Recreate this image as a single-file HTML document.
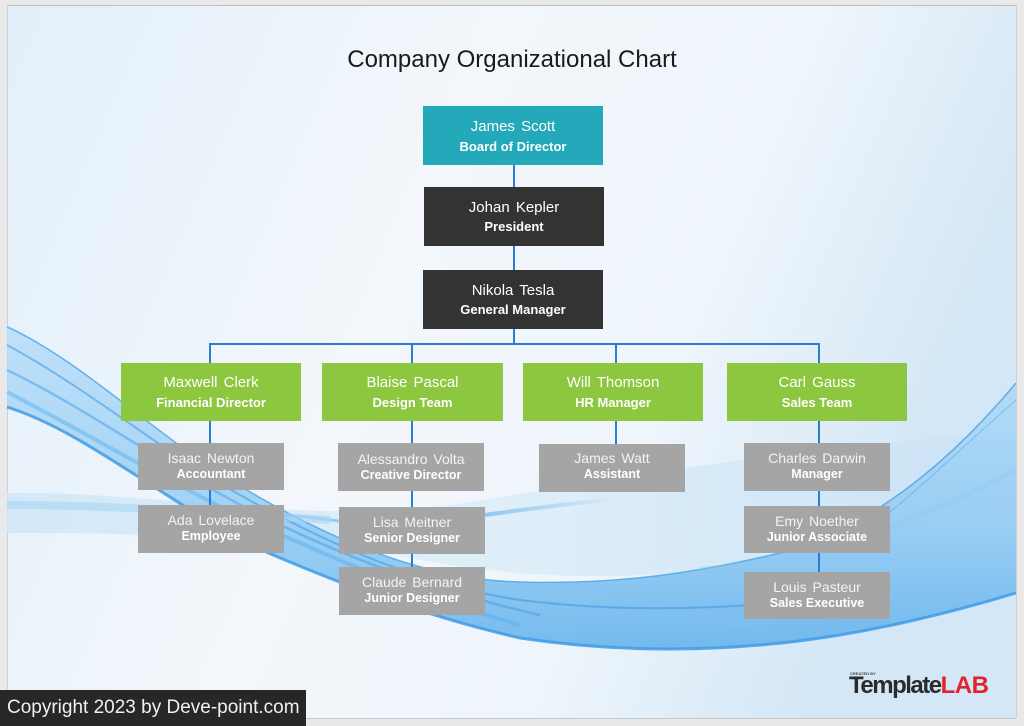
<!DOCTYPE html>
<html>
<head>
<meta charset="utf-8">
<style>
  html,body{margin:0;padding:0;}
  body{width:1024px;height:726px;position:relative;overflow:hidden;background:#e9e9e9;font-family:"Liberation Sans",Arial,sans-serif;}
  .bg{position:absolute;left:0;top:0;}
  .box{position:absolute;}
  .teal{background:#23a9b9;}
  .dark{background:#333333;}
  .green{background:#8dc63f;}
  .gray{background:#a5a5a5;}
  .t{position:absolute;left:0;width:100%;text-align:center;color:#fff;white-space:nowrap;}
  .n1{font-size:15px;line-height:18px;word-spacing:2px;}
  .r1{font-size:13px;line-height:16px;font-weight:bold;}
  .n2{font-size:14px;line-height:17px;word-spacing:2px;color:#f4f4f4;}
  .r2{font-size:12.5px;line-height:15px;font-weight:bold;}
  .ln{position:absolute;background:#2b7dd3;}
  .title{position:absolute;left:0;width:1024px;top:45px;text-align:center;font-size:24px;color:#1a1a1a;line-height:30px;}
  .copy{position:absolute;left:0;top:690px;width:306px;height:36px;background:#272727;color:#f0f0f0;font-size:19px;line-height:36px;padding-left:7px;box-sizing:border-box;white-space:nowrap;}
  .logo{position:absolute;left:849px;top:673px;font-size:24px;font-weight:bold;letter-spacing:-1.5px;line-height:26px;white-space:nowrap;}
  .logo .a{color:#2b2b2b;}
  .logo .b{color:#e3232c;letter-spacing:-0.5px;}
  .cb{position:absolute;left:850px;top:671px;font-size:4px;font-weight:bold;color:#444;line-height:5px;}
</style>
</head>
<body>
<svg class="bg" width="1024" height="726" viewBox="0 0 1024 726">
  <defs>
    <linearGradient id="bgg" x1="0" y1="0" x2="1" y2="0.3">
      <stop offset="0" stop-color="#e2effa"/>
      <stop offset="0.45" stop-color="#f3f7fb"/>
      <stop offset="0.75" stop-color="#eef5fb"/>
      <stop offset="1" stop-color="#d4e7f6"/>
    </linearGradient>
    <linearGradient id="band" x1="0" y1="0" x2="0" y2="1">
      <stop offset="0" stop-color="#b9def8"/>
      <stop offset="0.6" stop-color="#92cbf3"/>
      <stop offset="1" stop-color="#5fb0ec"/>
    </linearGradient>
    <linearGradient id="lite" x1="0" y1="0" x2="1" y2="0">
      <stop offset="0" stop-color="#cfe6f8"/>
      <stop offset="0.5" stop-color="#dcedf9"/>
      <stop offset="1" stop-color="#c9e2f6"/>
    </linearGradient>
    <linearGradient id="fade" x1="0" y1="0" x2="1" y2="0">
      <stop offset="0" stop-color="#5aaeea" stop-opacity="0.6"/>
      <stop offset="1" stop-color="#5aaeea" stop-opacity="0"/>
    </linearGradient>
  </defs>
  <rect x="7" y="5" width="1009" height="713" fill="url(#bgg)"/>
  <line x1="7" y1="5.5" x2="1016" y2="5.5" stroke="#bdbdbd" stroke-width="1"/>
  <line x1="7.5" y1="5" x2="7.5" y2="718" stroke="#d0d0d0" stroke-width="1"/>
  <line x1="1016.5" y1="5" x2="1016.5" y2="718" stroke="#d0d0d0" stroke-width="1"/>
  <line x1="7" y1="718.5" x2="1016" y2="718.5" stroke="#c8c8c8" stroke-width="1"/>
  <!-- light band -->
  <path d="M7,493 C150,490 300,525 450,505 C600,482 800,445 1016,432 L1016,505 C900,525 800,555 700,570 C600,582 500,576 400,556 C300,540 150,532 7,533 Z" fill="url(#lite)" opacity="0.85"/>
  <!-- main band -->
  <path d="M7,325 C80,360 150,430 230,480 C320,535 420,580 520,582 C620,585 700,572 780,553 C880,525 960,450 1016,383 L1016,593 C960,610 860,637 760,645 C680,652 600,650 520,638 C420,615 330,580 250,545 C150,490 80,430 7,407 Z" fill="url(#band)" opacity="0.85"/>
  <!-- texture lines -->
  <path d="M7,327 C80,360 150,430 230,480 C320,535 420,580 520,582 C620,585 700,572 780,553 C880,525 960,450 1016,383" fill="none" stroke="#4aa3e6" stroke-width="1.5" opacity="0.8"/>
  <path d="M1016,593 C960,610 860,637 760,645 C680,652 600,650 520,638 C420,615 330,580 250,545 C150,490 80,430 7,407" fill="none" stroke="#3f9be5" stroke-width="3" opacity="0.85"/>
  <path d="M7,345 C90,390 160,450 240,495 C330,545 420,585 520,600 C600,610 700,612 800,600" fill="none" stroke="#3b97e2" stroke-width="2" opacity="0.55"/>
  <path d="M7,370 C90,410 170,470 260,515 C340,555 430,590 540,615" fill="none" stroke="#3b97e2" stroke-width="2.5" opacity="0.45"/>
  <path d="M7,392 C100,440 180,490 270,530 C350,565 430,600 520,625" fill="none" stroke="#56aceb" stroke-width="4" opacity="0.45"/>
  <path d="M200,520 C260,512 300,515 345,522" fill="none" stroke="#5aaeea" stroke-width="3" opacity="0.5"/>
  <path d="M485,515 C520,510 560,505 620,498" fill="none" stroke="url(#fade)" stroke-width="4"/>
  <path d="M7,505 C120,505 250,515 330,520" fill="none" stroke="#a9d5f3" stroke-width="8" opacity="0.6"/>
  <path d="M700,570 C800,560 880,540 1016,470" fill="none" stroke="#8fc8f1" stroke-width="6" opacity="0.35"/>
  <path d="M880,520 C930,480 970,440 1016,400" fill="none" stroke="#4aa3e6" stroke-width="1" opacity="0.5"/>
</svg>

<div class="title">Company Organizational Chart</div>

<!-- connectors -->
<div class="ln" style="left:513px;top:164px;width:2px;height:24px"></div>
<div class="ln" style="left:513px;top:245px;width:2px;height:26px"></div>
<div class="ln" style="left:513px;top:328px;width:2px;height:16px"></div>
<div class="ln" style="left:209px;top:343px;width:611px;height:2px"></div>
<div class="ln" style="left:209px;top:343px;width:2px;height:21px"></div>
<div class="ln" style="left:411px;top:343px;width:2px;height:21px"></div>
<div class="ln" style="left:615px;top:343px;width:2px;height:21px"></div>
<div class="ln" style="left:818px;top:343px;width:2px;height:21px"></div>
<div class="ln" style="left:209px;top:420px;width:2px;height:24px"></div>
<div class="ln" style="left:209px;top:489px;width:2px;height:17px"></div>
<div class="ln" style="left:411px;top:420px;width:2px;height:24px"></div>
<div class="ln" style="left:411px;top:490px;width:2px;height:18px"></div>
<div class="ln" style="left:411px;top:553px;width:2px;height:15px"></div>
<div class="ln" style="left:615px;top:420px;width:2px;height:25px"></div>
<div class="ln" style="left:818px;top:420px;width:2px;height:24px"></div>
<div class="ln" style="left:818px;top:490px;width:2px;height:17px"></div>
<div class="ln" style="left:818px;top:552px;width:2px;height:21px"></div>

<!-- top boxes -->
<div class="box teal" style="left:423px;top:106px;width:180px;height:59px">
  <div class="t n1" style="top:12px">James Scott</div>
  <div class="t r1" style="top:33px">Board of Director</div>
</div>
<div class="box dark" style="left:424px;top:187px;width:180px;height:59px">
  <div class="t n1" style="top:12px">Johan Kepler</div>
  <div class="t r1" style="top:32px">President</div>
</div>
<div class="box dark" style="left:423px;top:270px;width:180px;height:59px">
  <div class="t n1" style="top:12px">Nikola Tesla</div>
  <div class="t r1" style="top:32px">General Manager</div>
</div>

<!-- green -->
<div class="box green" style="left:121px;top:363px;width:180px;height:58px">
  <div class="t n1" style="top:11px">Maxwell Clerk</div>
  <div class="t r1" style="top:32px">Financial Director</div>
</div>
<div class="box green" style="left:322px;top:363px;width:181px;height:58px">
  <div class="t n1" style="top:11px">Blaise Pascal</div>
  <div class="t r1" style="top:32px">Design Team</div>
</div>
<div class="box green" style="left:523px;top:363px;width:180px;height:58px">
  <div class="t n1" style="top:11px">Will Thomson</div>
  <div class="t r1" style="top:32px">HR Manager</div>
</div>
<div class="box green" style="left:727px;top:363px;width:180px;height:58px">
  <div class="t n1" style="top:11px">Carl Gauss</div>
  <div class="t r1" style="top:32px">Sales Team</div>
</div>

<!-- gray column 1 -->
<div class="box gray" style="left:138px;top:443px;width:146px;height:47px">
  <div class="t n2" style="top:7px">Isaac Newton</div>
  <div class="t r2" style="top:24px">Accountant</div>
</div>
<div class="box gray" style="left:138px;top:505px;width:146px;height:48px">
  <div class="t n2" style="top:7px">Ada Lovelace</div>
  <div class="t r2" style="top:24px">Employee</div>
</div>
<!-- column 2 -->
<div class="box gray" style="left:338px;top:443px;width:146px;height:48px">
  <div class="t n2" style="top:8px">Alessandro Volta</div>
  <div class="t r2" style="top:25px">Creative Director</div>
</div>
<div class="box gray" style="left:339px;top:507px;width:146px;height:47px">
  <div class="t n2" style="top:7px">Lisa Meitner</div>
  <div class="t r2" style="top:24px">Senior Designer</div>
</div>
<div class="box gray" style="left:339px;top:567px;width:146px;height:48px">
  <div class="t n2" style="top:7px">Claude Bernard</div>
  <div class="t r2" style="top:24px">Junior Designer</div>
</div>
<!-- column 3 -->
<div class="box gray" style="left:539px;top:444px;width:146px;height:48px">
  <div class="t n2" style="top:6px">James Watt</div>
  <div class="t r2" style="top:23px">Assistant</div>
</div>
<!-- column 4 -->
<div class="box gray" style="left:744px;top:443px;width:146px;height:48px">
  <div class="t n2" style="top:7px">Charles Darwin</div>
  <div class="t r2" style="top:24px">Manager</div>
</div>
<div class="box gray" style="left:744px;top:506px;width:146px;height:47px">
  <div class="t n2" style="top:7px">Emy Noether</div>
  <div class="t r2" style="top:24px">Junior Associate</div>
</div>
<div class="box gray" style="left:744px;top:572px;width:146px;height:47px">
  <div class="t n2" style="top:7px">Louis Pasteur</div>
  <div class="t r2" style="top:24px">Sales Executive</div>
</div>

<div class="cb">CREATED BY</div>
<div class="logo"><span class="a">Template</span><span class="b">LAB</span></div>

<div class="copy">Copyright 2023 by Deve-point.com</div>
</body>
</html>
